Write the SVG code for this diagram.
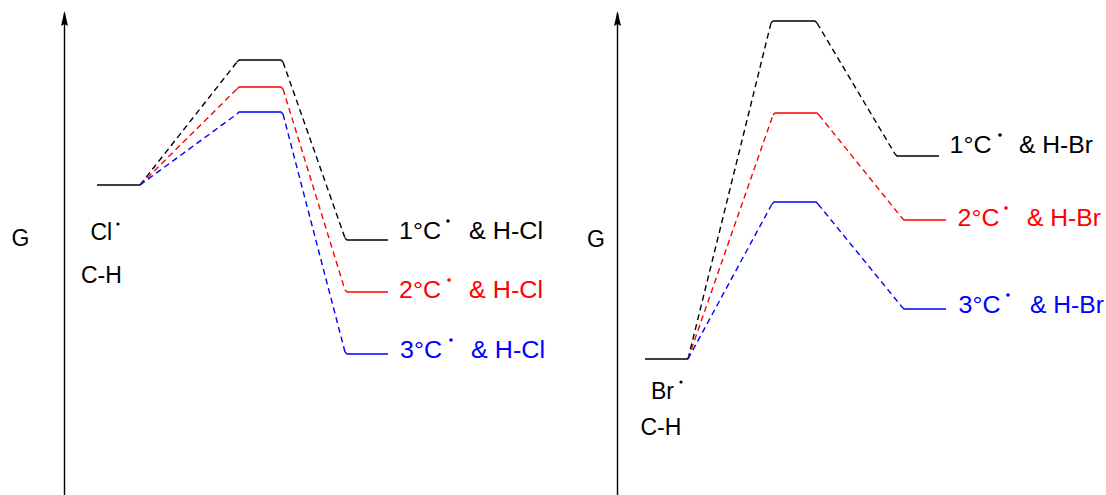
<svg xmlns="http://www.w3.org/2000/svg" width="1106" height="495" viewBox="0 0 1106 495">
<style>
text{font-family:"Liberation Sans",Arial,sans-serif;font-size:23px}
.k{fill:#000}.r{fill:#ff0000}.b{fill:#0000ff}
.lv{fill:none;stroke-width:1.4;stroke-linejoin:round}
.dk{stroke:#000}.dr{stroke:#ff0000}.db{stroke:#0000ff}
.ds{fill:none;stroke-width:1.4;stroke-dasharray:6 4}
.ax{stroke:#000;stroke-width:1.4;fill:none}
</style>
<g id="axes">
<line class="ax" x1="64.5" y1="495" x2="64.5" y2="13"/>
<path d="M64.5,11 L68,26 L64.5,24 L61,26 Z" fill="#000"/>
<text x="11.5" y="246">G</text>
<line class="ax" x1="617.5" y1="495" x2="617.5" y2="13"/>
<path d="M617.5,11 L621,26 L617.5,24 L614,26 Z" fill="#000"/>
<text x="587" y="247">G</text>
</g>
<g id="connectors">
<polyline class="ds dk" points="140,185 237,62"/>
<polyline class="ds dr" points="140,185 237,89"/>
<polyline class="ds db" points="140,185 237,114"/>
<polyline class="ds dk" points="283,62 345,238"/>
<polyline class="ds dr" points="283,89 345,290"/>
<polyline class="ds db" points="283,114 345,352"/>
<polyline class="ds dk" points="688,359 771,23"/>
<polyline class="ds dr" points="688,359 773,115"/>
<polyline class="ds db" points="688,359 772,204"/>
<polyline class="ds dk" points="817,23 895,154"/>
<polyline class="ds dr" points="819,115 902,218"/>
<polyline class="ds db" points="818,204 902,307"/>
</g>
<g id="cl-start">
<line class="lv dk" x1="97" y1="185" x2="140" y2="185"/>
<text x="90.5" y="240">Cl</text>
<circle cx="118" cy="224" r="1.6" fill="#000"/>
<text x="81" y="283">C-H</text>
</g>
<g id="cl-ts1"><polyline class="lv dk" points="237,62 239,60 281,60 283,62"/></g>
<g id="cl-ts2"><polyline class="lv dr" points="237,89 239,87 281,87 283,89"/></g>
<g id="cl-ts3"><polyline class="lv db" points="237,114 239,112 281,112 283,114"/></g>
<g id="cl-p1">
<polyline class="lv dk" points="345,238 347,240 388,240"/>
<text class="k" x="399" y="239" textLength="42" lengthAdjust="spacingAndGlyphs">1°C</text>
<circle cx="448" cy="221" r="1.8" fill="#000"/>
<text class="k" x="469" y="239" textLength="74" lengthAdjust="spacingAndGlyphs">&amp; H-Cl</text>
</g>
<g id="cl-p2">
<polyline class="lv dr" points="345,290 347,292 388,292"/>
<text class="r" x="399" y="298" textLength="42" lengthAdjust="spacingAndGlyphs">2°C</text>
<circle cx="449" cy="280" r="1.8" fill="#ff0000"/>
<text class="r" x="469" y="298" textLength="74" lengthAdjust="spacingAndGlyphs">&amp; H-Cl</text>
</g>
<g id="cl-p3">
<polyline class="lv db" points="345,352 347,354 388,354"/>
<text class="b" x="400" y="358" textLength="42" lengthAdjust="spacingAndGlyphs">3°C</text>
<circle cx="451" cy="340" r="1.8" fill="#0000ff"/>
<text class="b" x="471" y="358" textLength="74" lengthAdjust="spacingAndGlyphs">&amp; H-Cl</text>
</g>
<g id="br-start">
<line class="lv dk" x1="645" y1="359" x2="688" y2="359"/>
<text x="651" y="399">Br</text>
<circle cx="681" cy="382" r="1.6" fill="#000"/>
<text x="640.5" y="435">C-H</text>
</g>
<g id="br-ts1"><polyline class="lv dk" points="771,23 773,21 815,21 817,23"/></g>
<g id="br-ts2"><polyline class="lv dr" points="773,115 775,113 817,113 819,115"/></g>
<g id="br-ts3"><polyline class="lv db" points="772,204 774,202 816,202 818,204"/></g>
<g id="br-p1">
<polyline class="lv dk" points="895,154 897,156 939,156"/>
<text class="k" x="949.5" y="153" textLength="42" lengthAdjust="spacingAndGlyphs">1°C</text>
<circle cx="1000" cy="135" r="1.8" fill="#000"/>
<text class="k" x="1019" y="153" textLength="74" lengthAdjust="spacingAndGlyphs">&amp; H-Br</text>
</g>
<g id="br-p2">
<polyline class="lv dr" points="902,218 904,220 946,220"/>
<text class="r" x="957.5" y="226" textLength="42" lengthAdjust="spacingAndGlyphs">2°C</text>
<circle cx="1006" cy="208" r="1.8" fill="#ff0000"/>
<text class="r" x="1027" y="226" textLength="74" lengthAdjust="spacingAndGlyphs">&amp; H-Br</text>
</g>
<g id="br-p3">
<polyline class="lv db" points="902,307 904,309 946,309"/>
<text class="b" x="958.5" y="313" textLength="42" lengthAdjust="spacingAndGlyphs">3°C</text>
<circle cx="1008" cy="295" r="1.8" fill="#0000ff"/>
<text class="b" x="1030" y="313" textLength="74" lengthAdjust="spacingAndGlyphs">&amp; H-Br</text>
</g>
</svg>
